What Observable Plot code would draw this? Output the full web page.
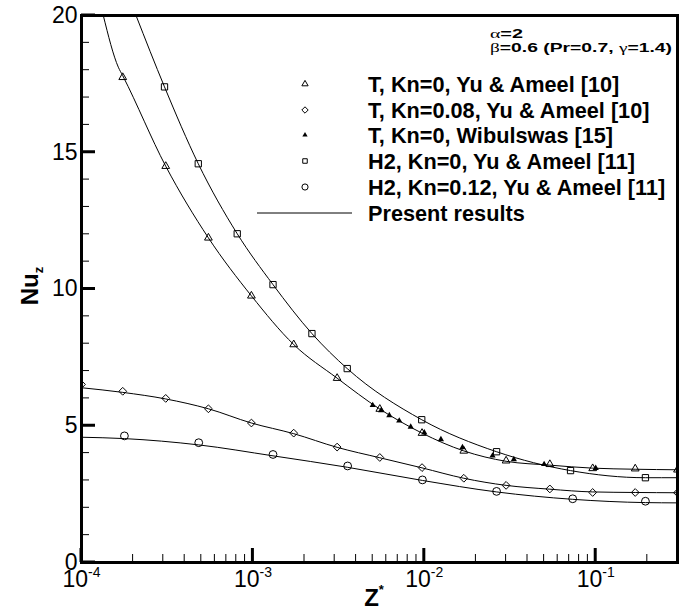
<!DOCTYPE html>
<html><head><meta charset="utf-8">
<script src="https://cdn.jsdelivr.net/npm/d3@7"></script>
<script src="https://cdn.jsdelivr.net/npm/@observablehq/plot@0.6"></script>
<style>
body{margin:0;background:#fff;}
#chart{position:relative;width:681px;height:612px;}
</style></head><body><div id="chart"></div>
<script>
// ---- data ----
const triOpenX = [1.74e-4, 3.1e-4, 5.5e-4, 9.8e-4, 1.73e-3, 3.1e-3, 5.5e-3, 9.7e-3, 0.017, 0.030, 0.054, 0.096, 0.17, 0.30];
const triOpenY = [17.74, 14.49, 11.87, 9.75, 7.97, 6.74, 5.61, 4.73, 4.08, 3.72, 3.59, 3.44, 3.43, 3.39];

const diamondX = [1.0e-4, 1.74e-4, 3.1e-4, 5.5e-4, 9.8e-4, 1.73e-3, 3.1e-3, 5.5e-3, 9.7e-3, 0.017, 0.030, 0.054, 0.096, 0.17, 0.30];
const diamondY = [6.51, 6.26, 6.00, 5.62, 5.10, 4.73, 4.22, 3.84, 3.47, 3.08, 2.82, 2.69, 2.56, 2.56, 2.55];

const wibX = [0.0050, 0.0056, 0.00625, 0.00714, 0.00833, 0.0100, 0.0125, 0.0167, 0.0250, 0.0333, 0.0500, 0.1000];
const wibY = [5.75, 5.56, 5.38, 5.18, 4.96, 4.75, 4.50, 4.21, 3.90, 3.77, 3.59, 3.45];

const squareX = [3.05e-4, 4.8e-4, 8.1e-4, 1.31e-3, 2.21e-3, 3.55e-3, 9.66e-3, 0.0264, 0.0713, 0.195];
const squareY = [17.39, 14.58, 12.02, 10.16, 8.37, 7.09, 5.22, 4.05, 3.36, 3.10];

const circleX = [1.78e-4, 4.83e-4, 1.31e-3, 3.57e-3, 9.75e-3, 0.0264, 0.0734, 0.195];
const circleY = [4.63, 4.38, 3.95, 3.53, 3.02, 2.60, 2.33, 2.24];

// present results (curves)
const curveTX = [1.34e-4, 1.64e-4, 1.74e-4, 3.1e-4, 5.5e-4, 9.8e-4, 1.73e-3, 3.1e-3, 5.5e-3, 9.7e-3, 0.017, 0.030, 0.054, 0.096, 0.17, 0.30];
const curveTY = [20, 18.11, 17.80, 14.49, 11.87, 9.75, 7.97, 6.74, 5.61, 4.73, 4.08, 3.70, 3.56, 3.45, 3.41, 3.39];
const curveHX = [2.08e-4, 3.05e-4, 4.8e-4, 8.1e-4, 1.31e-3, 2.21e-3, 3.55e-3, 9.66e-3, 0.0264, 0.0713, 0.195, 0.30];
const curveHY = [20, 17.39, 14.58, 12.02, 10.16, 8.37, 7.09, 5.22, 4.05, 3.36, 3.10, 3.10];
const curveK1X = [1e-4, 1.74e-4, 3.1e-4, 5.5e-4, 9.8e-4, 1.73e-3, 3.1e-3, 5.5e-3, 9.7e-3, 0.017, 0.030, 0.054, 0.096, 0.17, 0.30];
const curveK1Y = [6.39, 6.22, 5.98, 5.62, 5.10, 4.71, 4.21, 3.83, 3.46, 3.08, 2.82, 2.68, 2.58, 2.56, 2.55];
const curveK2X = [1e-4, 1.78e-4, 4.83e-4, 1.31e-3, 3.57e-3, 9.75e-3, 0.0264, 0.0734, 0.195, 0.30];
const curveK2Y = [4.58, 4.53, 4.30, 3.90, 3.48, 3.00, 2.58, 2.31, 2.19, 2.18];

const legendLabels = ["T, Kn=0, Yu & Ameel [10]", "T, Kn=0.08, Yu & Ameel [10]", "T, Kn=0, Wibulswas [15]",
  "H2, Kn=0, Yu & Ameel [11]", "H2, Kn=0.12, Yu & Ameel [11]", "Present results"];

const xMajor = [1e-4, 1e-3, 1e-2, 1e-1];
const xExp = ["-4", "-3", "-2", "-1"];
const yMajor = [0, 5, 10, 15, 20];

// ---- layout ----
const W = 681, H = 612, ML = 81, MR = 4, MT = 15, MB = 50;
const xDomain = [1e-4, 0.3], yDomain = [0, 20];

const pts = (X, Y) => X.map((x, i) => ({x, y: Y[i]}));
const xMinor = [];
for (let k = -4; k <= -1; k++) for (let m = 2; m <= 9; m++) { const v = m * Math.pow(10, k); if (v <= 0.3) xMinor.push(v); }
const yMinor = d3.range(1, 20).filter(v => v % 5 !== 0);

const FONT = "'Liberation Sans', Arial, Helvetica, sans-serif";
const lineOpts = {x: "x", y: "y", stroke: "black", strokeWidth: 1, curve: "monotone-x", clip: true};
const dotBase = {x: "x", y: "y", stroke: "black", strokeWidth: 1, clip: true};

const svg = Plot.plot({
  width: W, height: H,
  marginLeft: ML, marginRight: MR, marginTop: MT, marginBottom: MB,
  style: {fontFamily: FONT, background: "white", color: "black"},
  x: {type: "log", domain: xDomain, label: null},
  y: {domain: yDomain, label: null},
  marks: [
    Plot.axisX({ticks: xMajor, tickSize: 0, tickPadding: 8, label: null, fontSize: 23, tickFormat: () => "10"}),
    Plot.axisY({ticks: yMajor, tickSize: 0, tickPadding: 4, label: null, fontSize: 23, tickFormat: d => String(d)}),
    Plot.line(pts(curveTX, curveTY), lineOpts),
    Plot.line(pts(curveHX, curveHY), lineOpts),
    Plot.line(pts(curveK1X, curveK1Y), lineOpts),
    Plot.line(pts(curveK2X, curveK2Y), lineOpts),
    Plot.dot(pts(triOpenX, triOpenY), {...dotBase, symbol: "triangle2", r: 3.7, fill: "none"}),
    Plot.dot(pts(diamondX, diamondY), {...dotBase, symbol: "diamond2", r: 3.5, fill: "none"}),
    Plot.dot(pts(squareX, squareY), {...dotBase, symbol: "square2", r: 4.0, fill: "none"}),
    Plot.dot(pts(circleX, circleY), {...dotBase, symbol: "circle", r: 3.9, fill: "none"}),
    Plot.dot(pts(wibX, wibY), {x: "x", y: "y", symbol: "triangle", r: 2.3, fill: "black", stroke: "none", clip: true}),
    Plot.frame({stroke: "black", strokeWidth: 3})
  ]
});

const s = d3.select(svg);
const sx = svg.scale("x"), sy = svg.scale("y");

// inward ticks, placed through the plot's own scales
const tg = s.append("g").attr("stroke", "black").attr("fill", "none");
const xb = sy.apply(yDomain[0]), yl = sx.apply(xDomain[0]);
xMinor.forEach(v => { const px = sx.apply(v); tg.append("line").attr("x1", px).attr("x2", px).attr("y1", xb).attr("y2", xb - 8).attr("stroke-width", 1); });
xMajor.forEach(v => { const px = sx.apply(v); tg.append("line").attr("x1", px).attr("x2", px).attr("y1", xb).attr("y2", xb - 14).attr("stroke-width", 3); });
yMinor.forEach(v => { const py = sy.apply(v); tg.append("line").attr("x1", yl).attr("x2", yl + 8).attr("y1", py).attr("y2", py).attr("stroke-width", 1); });
yMajor.forEach(v => { const py = sy.apply(v); tg.append("line").attr("x1", yl).attr("x2", yl + 14).attr("y1", py).attr("y2", py).attr("stroke-width", 3); });

// superscript exponents on x tick labels
let ei = 0;
s.selectAll('g[aria-label="x-axis tick label"] text').each(function() {
  if (this.textContent !== "10") return;
  const t = d3.select(this);
  t.text(null);
  t.append("tspan").text("10");
  t.append("tspan").attr("font-size", 14).attr("dy", -10).text(xExp[ei++]);
});

// axis titles
const yt = s.append("text").attr("transform", "translate(38,286) rotate(-90)")
  .attr("text-anchor", "middle").attr("font-weight", "bold").attr("font-size", 24).attr("fill", "black");
yt.append("tspan").text("Nu");
yt.append("tspan").attr("font-size", 13).attr("dy", 5).text("z");

const xt = s.append("text").attr("x", 374).attr("y", 606)
  .attr("text-anchor", "middle").attr("font-weight", "bold").attr("font-size", 24).attr("fill", "black");
xt.append("tspan").text("Z");
xt.append("tspan").attr("font-size", 13).attr("dy", -12).text("*");

// annotation
const ann = s.append("g").attr("font-weight", "bold").attr("fill", "black").attr("font-size", 13).attr("text-anchor", "start");
const a1 = ann.append("text").attr("x", 490).attr("y", 38).attr("textLength", 33).attr("lengthAdjust", "spacingAndGlyphs");
a1.append("tspan").attr("font-family", "'Liberation Serif', serif").attr("font-weight", "normal").text("α");
a1.append("tspan").text("=2");
const a2 = ann.append("text").attr("x", 490).attr("y", 52).attr("textLength", 182).attr("lengthAdjust", "spacingAndGlyphs");
a2.append("tspan").attr("font-family", "'Liberation Serif', serif").attr("font-weight", "normal").text("β");
a2.append("tspan").text("=0.6 (Pr=0.7, ");
a2.append("tspan").attr("font-family", "'Liberation Serif', serif").attr("font-weight", "normal").text("γ");
a2.append("tspan").text("=1.4)");

// legend
const lg = s.append("g").attr("text-anchor", "start");
const rowsY = [84, 110, 135, 161, 187, 213];
const legSym = [
  {sym: d3.symbolTriangle2, size: 28, fill: "none", stroke: "black"},
  {sym: d3.symbolDiamond2, size: 26, fill: "none", stroke: "black"},
  {sym: d3.symbolTriangle, size: 12, fill: "black", stroke: "none"},
  {sym: d3.symbolSquare2, size: 26, fill: "none", stroke: "black"},
  {sym: d3.symbolCircle, size: 30, fill: "none", stroke: "black"}
];
legSym.forEach((o, i) => {
  lg.append("path").attr("d", d3.symbol(o.sym, o.size)()).attr("transform", `translate(305,${rowsY[i]})`)
    .attr("fill", o.fill).attr("stroke", o.stroke).attr("stroke-width", 1);
});
lg.append("line").attr("x1", 257).attr("x2", 352).attr("y1", rowsY[5]).attr("y2", rowsY[5]).attr("stroke", "black").attr("stroke-width", 1);
legendLabels.forEach((t, i) => {
  lg.append("text").attr("x", 368).attr("y", rowsY[i] + 7.5).attr("font-weight", "bold").attr("font-size", 21.7)
    .attr("font-family", FONT).attr("fill", "black").text(t);
});

document.getElementById("chart").appendChild(svg);
</script>
</body></html>
